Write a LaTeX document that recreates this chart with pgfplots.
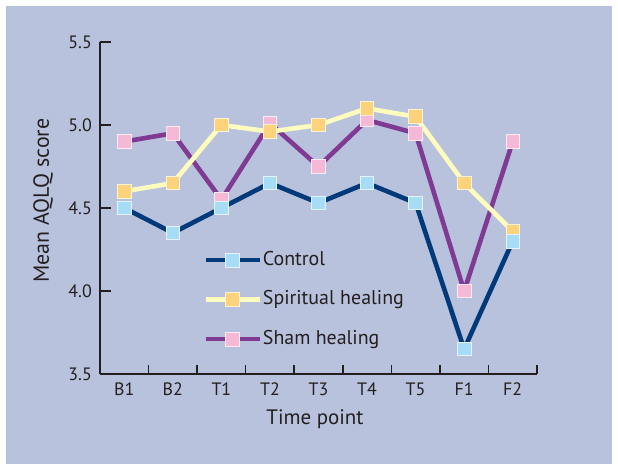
\documentclass[border=0pt]{standalone}
\usepackage{pgfplots}
\pgfplotsset{compat=1.18}
\usepackage{fontspec}
\setmainfont{PT Sans}
\definecolor{bg}{RGB}{185,194,220}
\definecolor{ink}{RGB}{35,31,32}
\definecolor{ctrlline}{RGB}{0,58,122}
\definecolor{ctrlmark}{RGB}{166,220,245}
\definecolor{spline}{RGB}{255,253,190}
\definecolor{spmark}{RGB}{252,210,122}
\definecolor{shline}{RGB}{128,58,148}
\definecolor{shmark}{RGB}{245,184,214}
\pgfplotstableread{
x ctrl spir sham
0 4.50 4.60 4.90
1 4.35 4.65 4.95
2 4.50 5.00 4.55
3 4.65 4.96 5.01
4 4.53 5.00 4.75
5 4.65 5.10 5.03
6 4.53 5.05 4.95
7 3.65 4.65 4.00
8 4.30 4.36 4.90
}\data
\begin{document}
\begin{tikzpicture}[x=1bp,y=1bp]
\useasboundingbox[fill=white] (-100,-97) rectangle (518,374);
\fill[bg] (-94,-90) rectangle (512,368);
\begin{axis}[
  at={(0,0)}, anchor=south west,
  scale only axis, width=437bp, height=332bp,
  xmin=-0.5, xmax=8.5, ymin=3.5, ymax=5.5,
  axis lines*=left,
  axis line style={ink, line width=1.6bp},
  clip=false,
  xtick={0,...,8},
  xticklabels={B1,B2,T1,T2,T3,T4,T5,F1,F2},
  minor xtick={0.5,1.5,...,8.5},
  ytick={3.5,4.0,4.5,5.0,5.5},
  yticklabels={3.5,4.0,4.5,5.0,5.5},
  major x tick style={draw=none},
  minor x tick style={ink, line width=1.6bp},
  minor tick length=9bp,
  y tick style={ink, line width=1.6bp},
  major tick length=11bp,
  tick align=inside,
  tick label style={font=\fontsize{18}{20}\selectfont, text=ink},
  xticklabel style={anchor=base, yshift=-22bp},
  yticklabel style={anchor=east, inner sep=0pt, xshift=-8bp},
  xlabel={Time point},
  ylabel={Mean AQLQ score},
  xlabel style={font=\fontsize{21}{24}\selectfont, text=ink,
    at={(axis description cs:0.492,-0.1536)}, anchor=base},
  ylabel style={font=\fontsize{22}{25}\selectfont, text=ink,
    at={(axis description cs:-0.1304,0.522)}, anchor=center},
  reverse legend,
  legend style={
    at={(0.236,0.3735)}, anchor=north west,
    draw=none, fill=none,
    font=\fontsize{20}{22}\selectfont,
    text=ink,
    row sep=19.5bp,
    inner sep=0pt,
    nodes={inner sep=1bp, anchor=west, text height=14bp, text depth=4bp},
  },
  legend cell align=left,
  legend image code/.code={
    \draw[#1, mark repeat=2, mark phase=2] plot coordinates {(0bp,0bp) (27bp,0bp) (54bp,0bp)};
  },
]
\addplot[shline, line width=4.6bp, mark=square*, mark size=6.8bp,
  mark options={fill=shmark, draw=white!70!shmark, line width=0.8bp}]
  table[x=x,y=sham] {\data};
\addplot[spline, line width=4.6bp, mark=square*, mark size=6.8bp,
  mark options={fill=spmark, draw=white!70!spmark, line width=0.8bp}]
  table[x=x,y=spir] {\data};
\addplot[ctrlline, line width=4.6bp, mark=square*, mark size=6.8bp,
  mark options={fill=ctrlmark, draw=white!70!ctrlmark, line width=0.8bp}]
  table[x=x,y=ctrl] {\data};
\legend{Sham healing,Spiritual healing,Control}
\end{axis}
\end{tikzpicture}
\end{document}
